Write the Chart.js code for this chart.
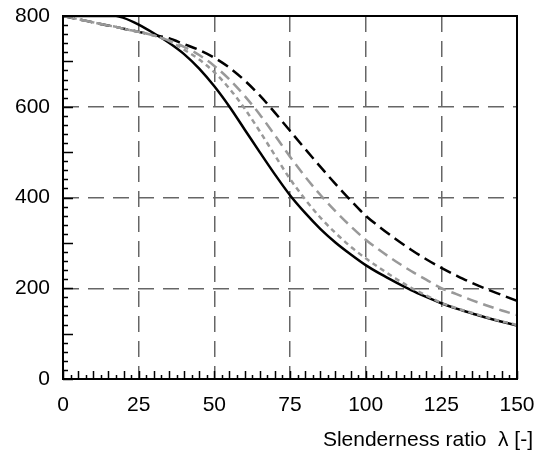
<!DOCTYPE html>
<html>
<head>
<meta charset="utf-8">
<script src="https://cdn.jsdelivr.net/npm/chart.js@4"></script>
<style>
  body { margin: 0; background: #fff; }
  #wrap { position: relative; width: 544px; height: 452px; }
  #xtitle {
    position: absolute; right: 11px; top: 427px;
    font: 21px 'Liberation Sans', Arial, sans-serif; color: #000; white-space: nowrap;
  }
</style>
</head>
<body>
<div id="wrap">
  <canvas id="chart" width="544" height="452"></canvas>
  <div id="xtitle">Slenderness ratio&nbsp;&nbsp;λ [-]</div>
</div>
<script>
const slenderness = [0, 5, 10, 15, 17.5, 20, 25, 30, 35, 40, 45, 50, 55, 60, 65, 70, 75,
  80, 85, 90, 95, 100, 105, 110, 115, 120, 125, 130, 135, 140, 145, 150];

const solidBlack  = [800, 800, 800, 800, 800, 796, 781, 762, 741, 716, 684, 645, 600, 550, 500, 451, 405,
  366, 331, 301, 275, 251, 231, 213, 196, 181, 167, 155, 145, 135, 126, 118];
const dashedBlack = [800, 793, 786, 779, 776, 772, 765, 758, 751, 738, 725, 708, 686, 658, 625, 587, 547,
  507, 468, 430, 394, 360, 333, 308, 285, 264, 245, 228, 212, 198, 185, 172];
const dashedGrey  = [800, 793, 786, 779, 776, 772, 765, 757, 746, 732, 714, 690, 660, 624, 583, 537, 490,
  446, 406, 370, 337, 307, 282, 259, 238, 219, 200, 187, 174, 162, 151, 141];
const dottedGrey  = [800, 793, 786, 779, 776, 772, 765, 757, 745, 726, 704, 676, 640, 596, 546, 493, 441,
  396, 356, 322, 292, 266, 243, 221, 201, 184, 168, 156, 146, 136, 127, 119];

const xTicks = [0, 25, 50, 75, 100, 125, 150];
const yTicks = [0, 200, 400, 600, 800];

const FONT = "'Liberation Sans', Arial, sans-serif";

function series(vals) {
  return slenderness.map((x, i) => ({ x, y: vals[i] }));
}

// inward minor ticks + frame
const frame = {
  id: 'frame',
  afterDraw(chart) {
    const { ctx, chartArea: a, scales: { x, y } } = chart;
    ctx.save();
    ctx.strokeStyle = '#000';
    ctx.lineWidth = 1.5;
    ctx.beginPath();
    for (let v = 0; v <= 150; v += 2.5) {
      const px = Math.round(x.getPixelForValue(v)) + 0.5;
      const len = v % 5 === 0 ? 8 : 4;
      ctx.moveTo(px, a.bottom);
      ctx.lineTo(px, a.bottom - len);
    }
    for (let v = 0; v <= 800; v += 20) {
      const py = Math.round(y.getPixelForValue(v)) + 0.5;
      const len = v % 100 === 0 ? 10 : 5;
      ctx.moveTo(a.left, py);
      ctx.lineTo(a.left + len, py);
    }
    ctx.stroke();
    ctx.lineWidth = 2;
    ctx.strokeRect(a.left, a.top, a.right - a.left, a.bottom - a.top);
    ctx.restore();
  }
};

new Chart(document.getElementById('chart'), {
  type: 'line',
  data: {
    datasets: [
      { data: series(dottedGrey),  borderColor: '#999', borderWidth: 2.5, borderDash: [5, 4] },
      { data: series(dashedGrey),  borderColor: '#999', borderWidth: 2.5, borderDash: [11, 6] },
      { data: series(dashedBlack), borderColor: '#000', borderWidth: 2.5, borderDash: [12, 6] },
      { data: series(solidBlack),  borderColor: '#000', borderWidth: 2.5 }
    ]
  },
  options: {
    responsive: false,
    animation: false,
    layout: { padding: { top: 16, right: 27, left: 0, bottom: 0 } },
    elements: {
      point: { radius: 0 },
      line: { cubicInterpolationMode: 'monotone', fill: false }
    },
    plugins: { legend: { display: false }, tooltip: { enabled: false } },
    scales: {
      x: {
        type: 'linear', min: 0, max: 150,
        afterBuildTicks: s => { s.ticks = xTicks.map(value => ({ value })); },
        afterFit: s => { s.height = 73; s.paddingLeft = 0; s.paddingRight = 0; },
        grid: { color: '#666', lineWidth: 1.5, drawTicks: false },
        border: { display: false, dash: [16, 9] },
        ticks: { color: '#000', padding: 14, maxRotation: 0, font: { family: FONT, size: 21 } }
      },
      y: {
        min: 0, max: 800,
        afterBuildTicks: s => { s.ticks = yTicks.map(value => ({ value })); },
        afterFit: s => { s.width = 63; s.paddingTop = 0; s.paddingBottom = 0; },
        grid: { color: '#666', lineWidth: 1.5, drawTicks: false },
        border: { display: false, dash: [16, 9] },
        ticks: { color: '#000', padding: 13, font: { family: FONT, size: 21 } }
      }
    }
  },
  plugins: [frame]
});
</script>
</body>
</html>
